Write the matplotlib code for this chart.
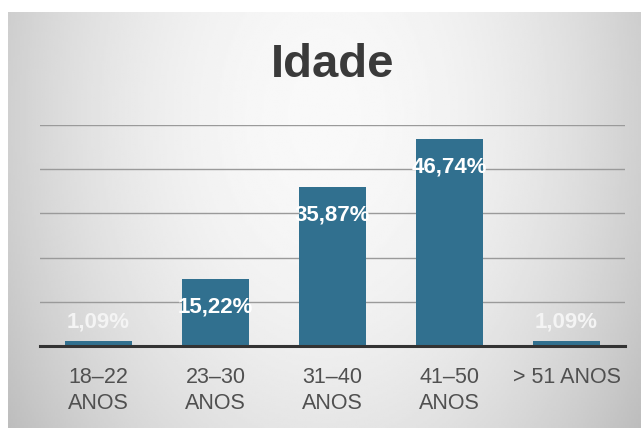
import matplotlib.pyplot as plt
import numpy as np

plt.rcParams['font.family'] = ['Liberation Sans', 'DejaVu Sans']

categories = ['18–22\nANOS', '23–30\nANOS', '31–40\nANOS', '41–50\nANOS', '> 51 ANOS']
values = [1.09, 15.22, 35.87, 46.74, 1.09]
labels = ['1,09%', '15,22%', '35,87%', '46,74%', '1,09%']

fig = plt.figure(figsize=(6.41, 4.28), dpi=100)
fig.patch.set_facecolor('white')

# gray gradient panel behind the chart
bg = fig.add_axes([8 / 641, 0, 633 / 641, 416 / 428])
bg.set_axis_off()
xx, yy = np.meshgrid(np.linspace(-1, 1, 300), np.linspace(-1, 1, 200))
r = np.sqrt((xx / 1.0) ** 2 + ((yy + 0.5) / 2.2) ** 2)
shade = 0.975 - 0.16 * r ** 2
bg.imshow(shade, cmap='gray', vmin=0, vmax=1, aspect='auto',
          extent=[0, 1, 0, 1], origin='upper')
bg.set_xlim(0, 1)
bg.set_ylim(0, 1)

ax = fig.add_axes([40 / 641, 82 / 428, 585 / 641, 221 / 428])
ax.patch.set_alpha(0)
x = np.arange(len(values))
ax.bar(x, values, width=0.58, color='#31708f', zorder=3)
ax.set_xlim(-0.5, 4.5)
ax.set_ylim(0, 50)
ax.set_yticks([10, 20, 30, 40, 50])
ax.yaxis.grid(True, color='#9a9a9a', linewidth=1.0, zorder=0)
ax.tick_params(axis='y', left=False, labelleft=False)
ax.tick_params(axis='x', length=0, pad=15, labelsize=15.5, labelcolor='#505050')
ax.set_xticks(x)
ax.set_xticklabels(categories, linespacing=1.3)
for s in ['top', 'right', 'left']:
    ax.spines[s].set_visible(False)
ax.spines['bottom'].set_color('#333333')
ax.spines['bottom'].set_linewidth(2.2)
ax.spines['bottom'].set_zorder(4)

for xi, v, lab in zip(x, values, labels):
    if v > 5:
        off = -20
        col = 'white'
    else:
        off = 14
        col = '#f4f4f4'
    ax.annotate(lab, (xi, v), xytext=(0, off), textcoords='offset points',
                ha='center', va='center', color=col, fontsize=16,
                fontweight='bold', zorder=5)

fig.text(333 / 641, 1 - 65 / 428, 'Idade', ha='center', va='center',
         fontsize=34, fontweight='bold', color='#3a3a3a')

fig.savefig('out.png', dpi=100)
